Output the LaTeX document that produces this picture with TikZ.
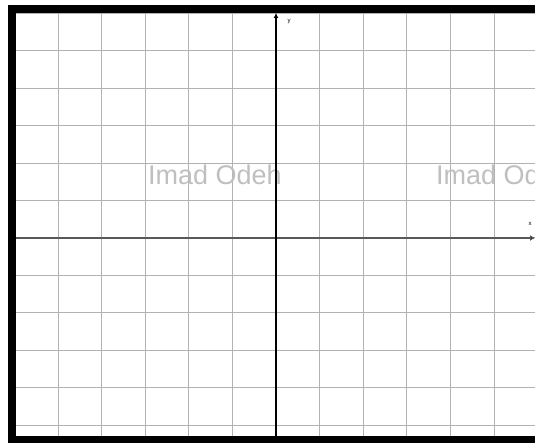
\documentclass[tikz,border=0pt]{standalone}
\usepackage{fontspec}
\setmainfont{Liberation Sans}
\usetikzlibrary{arrows.meta}
\begin{document}
\begin{tikzpicture}[x=1pt,y=-1pt,
  gridline/.style={draw=gray!60,line width=1pt},
  axisline/.style={draw=black,line width=1.3pt,-{Latex[length=5pt,width=5pt]}},
  xaxisline/.style={draw=black!65,line width=2.4pt,-{Latex[length=5pt,width=6pt,fill=black]}},
  watermark/.style={text=black!25,font=\fontsize{27}{30}\selectfont,inner sep=0pt,anchor=base west},
  axislabel/.style={font=\fontsize{6}{7}\selectfont,inner sep=0pt}]
\useasboundingbox (0,0) rectangle (535,443);
\begin{scope}
\clip (0,0) rectangle (535,443);
% grid
\foreach \k in {-6,...,6}{
  \draw[gridline] ({276+43.6*\k},9) -- ({276+43.6*\k},440);
}
\foreach \k in {-6,...,6}{
  \draw[gridline] (12,{238+37.4*\k}) -- (540,{238+37.4*\k});
}
% watermark texts
\node[watermark] (w1) at (148,185) {Imad Odeh};
\node[watermark] (w2) at (436,185) {Imad Odeh};
% axes
\coordinate (xl) at (12,238);
\coordinate (xr) at (535,238);
\coordinate (yb) at (276,440);
\coordinate (yt) at (276,13);
\draw[xaxisline] (xl) -- (xr);
\draw[axisline] (yb) -- (yt);
\node[axislabel] (ylab) at (289,22) {y};
\node[axislabel] (xlab) at (530,224) {x};
% frame
\draw[line width=8pt,black] (12,440) -- (12,9) -- (545,9);
\draw[line width=8pt,black] (8,440) -- (545,440);
\end{scope}
\end{tikzpicture}
\end{document}
